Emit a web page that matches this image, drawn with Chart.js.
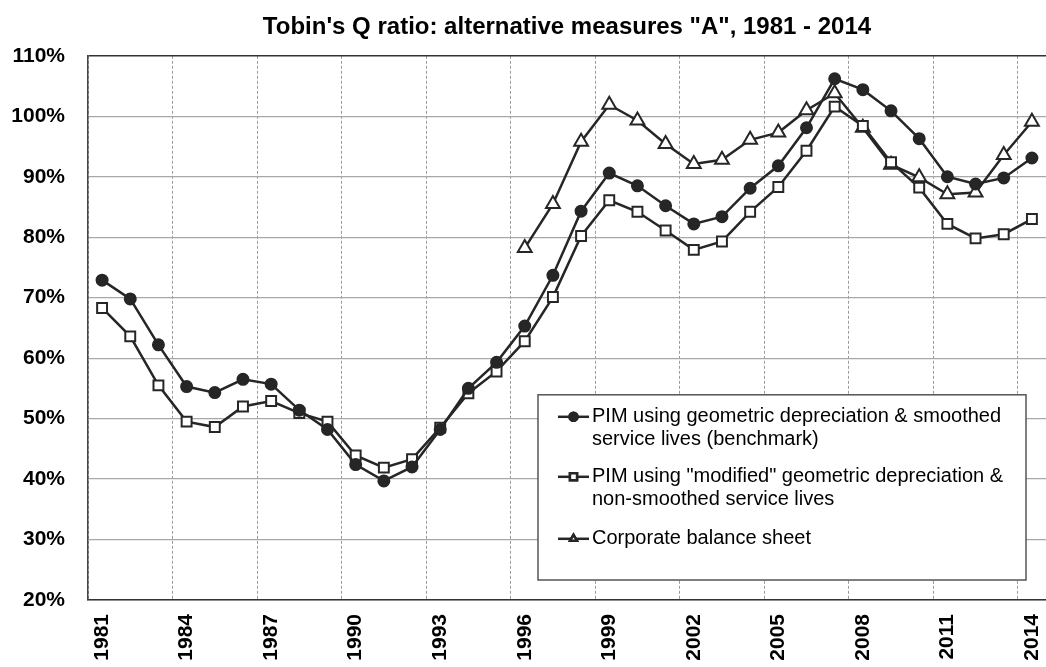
<!DOCTYPE html>
<html>
<head>
<meta charset="utf-8">
<script src="https://cdn.jsdelivr.net/npm/chart.js@4"></script>
<style>
  html, body { margin: 0; padding: 0; background: #fff; }
  #wrap { width: 1046px; height: 667px; position: relative; }
</style>
</head>
<body>
<div id="wrap"><canvas id="qChart"></canvas></div>
<script>
/* global Chart */

const years = [];
for (let y = 1981; y <= 2014; y += 1) years.push(String(y));

const pimSmoothed = [72.9, 69.8, 62.2, 55.3, 54.3, 56.5, 55.7, 51.4, 48.2, 42.4, 39.7, 42.0,
  48.2, 55.0, 59.3, 65.3, 73.7, 84.3, 90.6, 88.5, 85.2, 82.2, 83.4, 88.1, 91.8, 98.1,
  106.2, 104.4, 100.9, 96.3, 90.0, 88.8, 89.8, 93.1];

const pimModified = [68.3, 63.6, 55.5, 49.5, 48.6, 52.0, 52.9, 50.9, 49.5, 43.9, 41.9, 43.3,
  48.5, 54.2, 57.8, 62.8, 70.1, 80.2, 86.1, 84.2, 81.1, 77.9, 79.3, 84.2, 88.3, 94.3,
  101.6, 98.4, 92.4, 88.2, 82.2, 79.8, 80.5, 83.0];

const balanceSheet = [null, null, null, null, null, null, null, null, null, null, null, null,
  null, null, null, 78.2, 85.5, 95.8, 101.9, 99.3, 95.4, 92.1, 92.8, 96.1, 97.3, 101.0,
  103.8, 98.1, 92.0, 89.9, 87.1, 87.4, 93.6, 99.1];

const seriesLabels = [
  ['PIM using geometric depreciation & smoothed', 'service lives (benchmark)'],
  ['PIM using "modified" geometric depreciation &', 'non-smoothed service lives'],
  ['Corporate balance sheet'],
];

const yTicks = [20, 30, 40, 50, 60, 70, 80, 90, 100, 110];

const FONT = 'Arial, "Liberation Sans", sans-serif';
const INK = '#262626';

// Excel-style boxed legend with two-line entries, drawn inside the plot area
const boxLegend = {
  id: 'boxLegend',
  afterDraw(chart) {
    const { ctx, chartArea } = chart;
    const left = chartArea.left + 450;
    const right = chartArea.right - 20;
    const top = chartArea.top + 339;
    const bottom = chartArea.bottom - 20;
    ctx.save();
    ctx.fillStyle = '#fff';
    ctx.fillRect(left, top, right - left, bottom - top);
    ctx.strokeStyle = '#555';
    ctx.lineWidth = 1.5;
    ctx.strokeRect(left, top, right - left, bottom - top);

    const rowY = [top + 22, top + 82, top + 144];
    ctx.font = `20px ${FONT}`;
    ctx.textBaseline = 'middle';
    ctx.textAlign = 'left';
    chart.data.datasets.forEach((ds, i) => {
      const y = rowY[i];
      const x1 = left + 20;
      const x2 = left + 51;
      ctx.strokeStyle = INK;
      ctx.lineWidth = 2.5;
      ctx.beginPath();
      ctx.moveTo(x1, y);
      ctx.lineTo(x2, y);
      ctx.stroke();
      Chart.helpers.drawPoint(ctx, {
        pointStyle: ds.pointStyle,
        radius: ds.pointStyle === 'rect' ? 5 : 4,
        borderWidth: 1.5,
      }, (x1 + x2) / 2, y);
      ctx.fillStyle = ds.pointBackgroundColor;
      ctx.strokeStyle = INK;
      ctx.fill();
      ctx.stroke();
      ctx.fillStyle = '#000';
      seriesLabels[i].forEach((line, j) => {
        ctx.fillText(line, x2 + 3, y + j * 23);
      });
    });
    ctx.restore();
  },
};

function lineSet(label, data, style, fill, radius) {
  return {
    label,
    data,
    borderColor: INK,
    borderWidth: 2.5,
    pointStyle: style,
    pointRadius: radius,
    pointHoverRadius: radius,
    pointBackgroundColor: fill,
    pointBorderColor: INK,
    pointBorderWidth: 2,
    tension: 0,
    spanGaps: false,
  };
}

function tobinChart() {
  const config = {
    type: 'line',
    data: {
      labels: years,
      datasets: [
        lineSet(seriesLabels[0].join(' '), pimSmoothed, 'circle', INK, 5.5),
        lineSet(seriesLabels[1].join(' '), pimModified, 'rect', '#fff', 7),
        lineSet(seriesLabels[2].join(' '), balanceSheet, 'triangle', '#fff', 8),
      ],
    },
    options: {
      responsive: true,
      maintainAspectRatio: false,
      animation: false,
      layout: { autoPadding: false, padding: { left: 10, right: 0, top: 0, bottom: 0 } },
      plugins: {
        legend: { display: false },
        tooltip: { enabled: false },
        title: {
          display: true,
          fullSize: false,
          text: 'Tobin\'s Q ratio: alternative measures "A", 1981 - 2014',
          color: '#000',
          font: { family: FONT, size: 24, weight: 'bold' },
          padding: { top: 13, bottom: 14 },
        },
      },
      scales: {
        x: {
          type: 'category',
          offset: true,
          afterFit(scale) {
            scale.height = 67;
            scale.paddingLeft = 0;
            scale.paddingRight = 0;
          },
          grid: {
            offset: true,
            drawTicks: false,
            color: (c) => (c.index % 3 === 0 ? '#9a9a9a' : 'rgba(0,0,0,0)'),
            lineWidth: 1,
          },
          border: { display: true, color: '#333', width: 1.5, dash: [3, 2] },
          ticks: {
            autoSkip: false,
            minRotation: 90,
            maxRotation: 90,
            padding: 14,
            color: '#000',
            font: { family: FONT, size: 21, weight: 'bold' },
            callback(value, index) {
              return index % 3 === 0 ? years[index] : '';
            },
          },
        },
        y: {
          min: 20,
          max: 110,
          afterBuildTicks(scale) {
            scale.ticks = yTicks.map((v) => ({ value: v }));
          },
          afterFit(scale) {
            scale.width = 78;
          },
          grid: {
            drawTicks: false,
            color: (c) => (c.tick && c.tick.value === 110 ? '#333' : '#a8a8a8'),
            lineWidth: (c) => (c.tick && c.tick.value === 110 ? 1.5 : 1.2),
          },
          border: { display: true, color: '#444', width: 1.5 },
          ticks: {
            padding: 23,
            color: '#000',
            font: { family: FONT, size: 21, weight: 'bold' },
            callback: (v) => `${v}%`,
          },
        },
      },
    },
    plugins: [boxLegend],
  };
  return new Chart(document.getElementById('qChart'), config);
}

document.addEventListener('DOMContentLoaded', tobinChart);
</script>
</body>
</html>
